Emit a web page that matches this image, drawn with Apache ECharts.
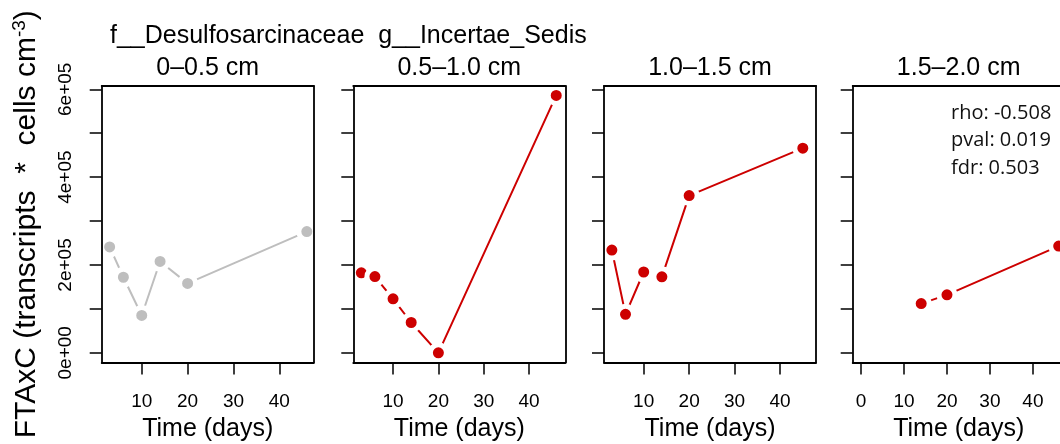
<!DOCTYPE html>
<html>
<head>
<meta charset="utf-8">
<script src="https://cdn.jsdelivr.net/npm/echarts@6/dist/echarts.min.js"></script>
<style>html,body{margin:0;padding:0;background:#fff;}#c{width:1060px;height:444px;}</style>
</head>
<body>
<div id="c"></div>
<script>
// ---- data ----
const mainTitle = 'f__Desulfosarcinaceae  g__Incertae_Sedis';
const panelTitles = ['0\u20130.5 cm', '0.5\u20131.0 cm', '1.0\u20131.5 cm', '1.5\u20132.0 cm'];
const days1 = [3, 6, 10, 14, 20, 46];
const vals1 = [241000, 172000, 85000, 208000, 158000, 276000];
const days2 = [3, 6, 10, 14, 20, 46];
const vals2 = [182000, 173500, 123000, 69000, 0, 586000];
const days3 = [3, 6, 10, 14, 20, 45];
const vals3 = [234000, 87500, 184000, 173000, 358000, 466000];
const days4 = [14, 20, 46];
const vals4 = [112000, 132000, 243000];
const panelColors = ['#BEBEBE', '#CD0000', '#CD0000', '#CD0000'];
const xLimits = [[1.27, 47.5], [1.23, 48.0], [1.27, 47.9], [-1.94, 47.4]];
const xTickValues = [[10, 20, 30, 40], [10, 20, 30, 40], [10, 20, 30, 40], [0, 10, 20, 30, 40]];
const yLimits = [-22100, 607500];
const yTickValues = [0, 100000, 200000, 300000, 400000, 500000, 600000];
const yLabelValues = [0, 200000, 400000, 600000];
const yLabelTexts = ['0e+00', '2e+05', '4e+05', '6e+05'];
const xName = 'Time (days)';
const yNameParts = ['FTAxC (transcripts  *  cells cm', '-3', ')'];
const statsLines = ['rho: -0.508', 'pval: 0.019', 'fdr: 0.503'];

const panelDays = [days1, days2, days3, days4];
const panelVals = [vals1, vals2, vals3, vals4];

// ---- layout ----
const FONT = 'Liberation Sans, Arial, Helvetica, sans-serif';
const gridLefts = [101.7, 353.3, 604, 852.7];
const gridWidth = 212;
const gridTop = 86;
const gridBottom = 81.5;
const boxW = 1.8;

const grids = [], xAxes = [], yAxes = [], series = [];
for (let i = 0; i < 4; i++) {
  grids.push({left: gridLefts[i], width: gridWidth, top: gridTop, bottom: gridBottom, containLabel: false, outerBoundsMode: 'none'});
  xAxes.push({
    type: 'value', gridIndex: i, position: 'bottom', z: 10,
    min: xLimits[i][0], max: xLimits[i][1],
    axisLine: {show: true, onZero: false, lineStyle: {color: '#000', width: boxW}},
    axisTick: {show: true, inside: false, length: 12, customValues: xTickValues[i], lineStyle: {color: '#000', width: 1.5}},
    axisLabel: {show: true, customValues: xTickValues[i], margin: 30, fontSize: 19, color: '#000', fontFamily: FONT},
    splitLine: {show: false},
    name: xName, nameLocation: 'middle', nameGap: 49,
    nameTextStyle: {fontSize: 25, color: '#000', fontFamily: FONT}
  });
  xAxes.push({
    type: 'value', gridIndex: i, position: 'top', z: 10,
    min: xLimits[i][0], max: xLimits[i][1],
    axisLine: {show: true, onZero: false, lineStyle: {color: '#000', width: boxW}},
    axisTick: {show: false}, axisLabel: {show: false}, splitLine: {show: false},
    name: panelTitles[i], nameLocation: 'middle', nameGap: 5,
    nameTextStyle: {fontSize: 25, color: '#000', fontFamily: FONT, verticalAlign: 'bottom'}
  });
  const yLeft = {
    type: 'value', gridIndex: i, position: 'left', z: 10,
    min: yLimits[0], max: yLimits[1],
    axisLine: {show: true, onZero: false, lineStyle: {color: '#000', width: boxW}},
    axisTick: {show: true, inside: false, length: 12, customValues: yTickValues, lineStyle: {color: '#000', width: 1.5}},
    axisLabel: {
      show: i === 0, customValues: yLabelValues, rotate: 90, margin: 26, fontSize: 19, color: '#000', fontFamily: FONT,
      formatter: function (v) { const k = yLabelValues.indexOf(v); return k >= 0 ? yLabelTexts[k] : ''; }
    },
    splitLine: {show: false}
  };
  if (i === 0) {
    yLeft.name = '{a|' + yNameParts[0] + '}{b|' + yNameParts[1] + '}{a|' + yNameParts[2] + '}';
    yLeft.nameLocation = 'middle';
    yLeft.nameRotate = 90;
    yLeft.nameGap = 58;
    yLeft.nameTextStyle = {
      color: '#000', fontFamily: FONT, fontSize: 30,
      rich: {
        a: {fontSize: 30, color: '#000', fontFamily: FONT},
        b: {fontSize: 19, color: '#000', fontFamily: FONT, verticalAlign: 'top', padding: [0, 0, 14, 0]}
      }
    };
  }
  yAxes.push(yLeft);
  yAxes.push({
    type: 'value', gridIndex: i, position: 'right', z: 10,
    min: yLimits[0], max: yLimits[1],
    axisLine: {show: true, onZero: false, lineStyle: {color: '#000', width: boxW}},
    axisTick: {show: false}, axisLabel: {show: false}, splitLine: {show: false}
  });
  series.push({
    type: 'line', xAxisIndex: 2 * i, yAxisIndex: 2 * i,
    data: panelDays[i].map((d, k) => [d, panelVals[i][k]]),
    symbol: 'circle', symbolSize: 16, showAllSymbol: true, clip: false,
    lineStyle: {color: panelColors[i], width: 2},
    itemStyle: {color: panelColors[i], borderColor: '#fff', borderWidth: 5},
    emphasis: {disabled: true},
    z: 2
  });
}

const chart = echarts.init(document.getElementById('c'), null, {renderer: 'canvas'});
chart.setOption({
  animation: false,
  backgroundColor: '#fff',
  title: {
    text: mainTitle, left: 110, top: 24, padding: 0,
    textStyle: {fontSize: 25, fontWeight: 'normal', color: '#000', fontFamily: FONT}
  },
  grid: grids, xAxis: xAxes, yAxis: yAxes, series: series,
  graphic: [{
    type: 'text', left: 951, top: 99, z: 20,
    style: {text: statsLines.join('\n'), fontSize: 20, lineHeight: 27.6, fill: '#111', fontFamily: 'Open Sans, sans-serif'}
  }]
});
</script>
</body>
</html>
